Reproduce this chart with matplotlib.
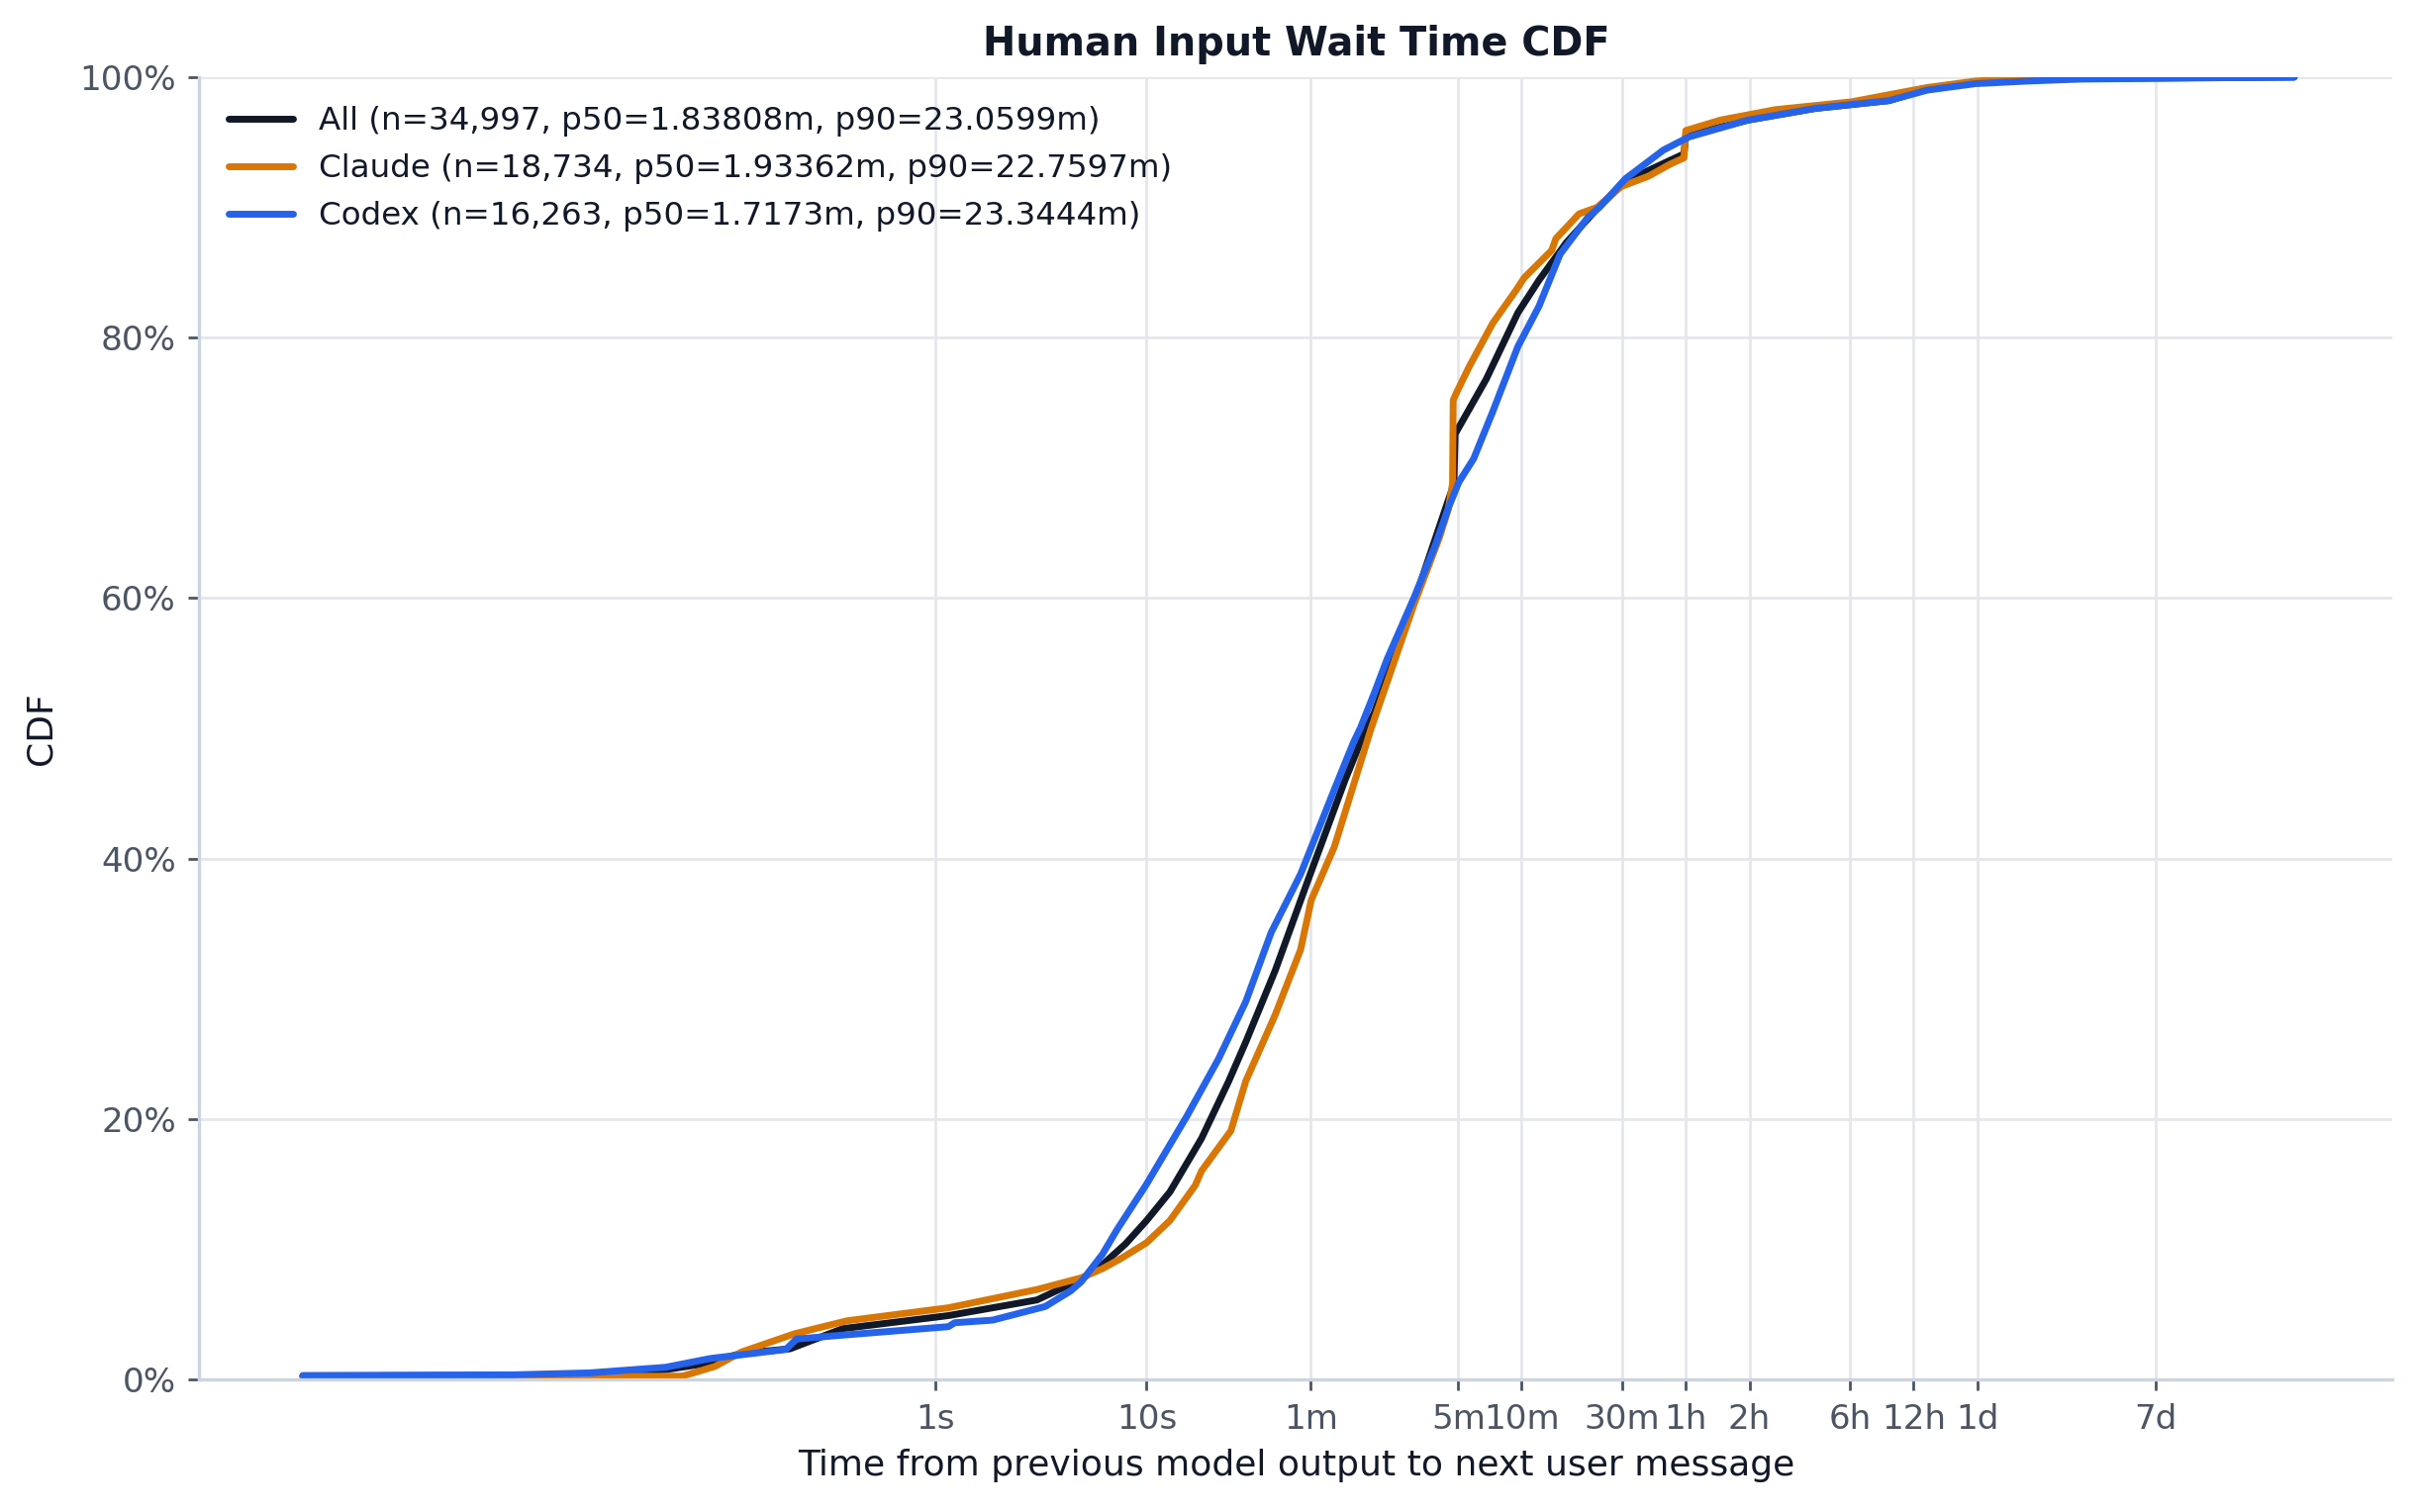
import matplotlib
matplotlib.use("Agg")
import matplotlib.pyplot as plt
from matplotlib.ticker import FixedLocator, FixedFormatter, PercentFormatter, NullLocator

# ---- data (time in seconds, CDF in percent) ----
all_t = [0.001, 0.01, 0.03, 0.0525, 0.08, 0.12, 0.204, 0.363, 1.15, 3.02, 4.90, 6.17, 7.94, 10,
         12.9, 18.2, 24.5, 29.5, 40.7, 57.5, 87.1, 110, 120, 186, 269, 286, 290, 407, 575, 724,
         977, 1384, 1862, 3020, 3524, 3597, 7079, 14791, 33113, 50119, 85114, 151356, 269153,
         2754229]
all_p = [0.25, 0.3, 0.45, 0.75, 1.2, 2.0, 2.35, 3.9, 4.9, 6.1, 7.7, 8.8, 10.4, 12.2,
         14.4, 18.5, 22.9, 25.9, 31.4, 38.1, 46.0, 50.0, 51.2, 59.8, 67.5, 68.7, 72.6, 76.8, 81.9,
         84.4, 87.3, 90.0, 92.0, 93.6, 94.1, 95.5, 96.7, 97.6, 98.2, 99.1, 99.6, 99.8, 99.9,
         100.0]

claude_t = [0.001, 0.0617, 0.0646, 0.09, 0.12, 0.214, 0.38, 1.15, 3.02, 4.90, 6.17, 7.59, 10,
            12.9, 17.0, 18.2, 25.1, 29.5, 40.7, 53.7, 60.3, 77.6, 116, 186, 245, 269, 282, 284,
            295, 339, 437, 562, 617, 832, 871, 1122, 1366, 1778, 2399, 3020, 3524, 3597, 5248,
            9550, 21878, 50119, 85114, 151356, 1000000]
claude_p = [0.2, 0.25, 0.3, 1.0, 2.1, 3.5, 4.5, 5.5, 6.9, 7.8, 8.5, 9.3, 10.5,
            12.2, 14.9, 16.0, 19.1, 22.9, 28.0, 33.0, 36.8, 40.9, 50.0, 59.6, 64.7, 66.8, 68.8,
            75.2, 75.8, 77.8, 81.1, 83.6, 84.6, 86.7, 87.6, 89.5, 90.0, 91.6, 92.4, 93.3, 93.8,
            95.9, 96.7, 97.5, 98.1, 99.2, 99.7, 99.9, 100.0]

codex_t = [0.001, 0.01, 0.0229, 0.0525, 0.0851, 0.195, 0.219, 0.363, 1.15, 1.23, 1.86, 3.31,
           4.37, 4.90, 6.17, 7.24, 10, 15.5, 21.9, 29.5, 38.9, 53.7, 77.6, 95.5, 103, 120, 138,
           186, 234, 269, 302, 355, 437, 575, 724, 912, 1230, 1400, 1862, 2818, 3715, 7079,
           14791, 33113, 50119, 85114, 151356, 269153, 2754229]
codex_p = [0.3, 0.35, 0.5, 0.93, 1.6, 2.3, 3.1, 3.4, 4.05, 4.35, 4.55, 5.6,
           6.8, 7.5, 9.6, 11.5, 15.0, 20.2, 24.6, 29.0, 34.3, 38.8, 45.3, 48.9, 50.0, 52.7, 55.3,
           60.1, 64.1, 66.9, 68.9, 70.7, 74.3, 79.3, 82.4, 86.4, 89.2, 90.0, 92.2, 94.4, 95.4,
           96.7, 97.6, 98.2, 99.0, 99.5, 99.7, 99.85, 100.0]

series_labels = ["All (n=34,997, p50=1.83808m, p90=23.0599m)",
                 "Claude (n=18,734, p50=1.93362m, p90=22.7597m)",
                 "Codex (n=16,263, p50=1.7173m, p90=23.3444m)"]
series_colors = ["#111827", "#d97706", "#2563eb"]

tick_seconds = [1, 10, 60, 300, 600, 1800, 3600, 7200, 21600, 43200, 86400, 604800]
tick_labels = ["1s", "10s", "1m", "5m", "10m", "30m", "1h", "2h", "6h", "12h", "1d", "7d"]
y_ticks = [0, 20, 40, 60, 80, 100]

# ---- figure ----
plt.rcParams['font.family'] = ['DejaVu Sans']
fig = plt.figure(figsize=(12.21, 7.64), dpi=200)
ax = fig.add_axes([0.0825, 0.0877, 0.9073, 0.8613])

for t, p, lab, col in zip([all_t, claude_t, codex_t], [all_p, claude_p, codex_p],
                          series_labels, series_colors):
    ax.plot(t, p, color=col, lw=2.5, label=lab, solid_capstyle='round',
            solid_joinstyle='round')

ax.set_xscale('log')
ax.set_xlim(10 ** -3.49, 10 ** 6.905)
ax.set_ylim(0, 100)

ax.xaxis.set_major_locator(FixedLocator(tick_seconds))
ax.xaxis.set_major_formatter(FixedFormatter(tick_labels))
ax.xaxis.set_minor_locator(NullLocator())
ax.yaxis.set_major_locator(FixedLocator(y_ticks))
ax.yaxis.set_major_formatter(PercentFormatter(decimals=0))

ax.grid(True, color="#e5e7eb", lw=1.0)
ax.set_axisbelow(True)
for s in ['top', 'right']:
    ax.spines[s].set_visible(False)
for s in ['left', 'bottom']:
    ax.spines[s].set_color("#cbd5e1")
    ax.spines[s].set_linewidth(1.2)

ax.tick_params(axis='both', labelsize=12.3, labelcolor="#4b5563", color="#4b5563",
               length=4, width=1.0, pad=4.5)

ax.set_xlabel("Time from previous model output to next user message", fontsize=13,
              color="#111827", labelpad=5)
ax.set_ylabel("CDF", fontsize=13, color="#111827", labelpad=8)
ax.set_title("Human Input Wait Time CDF", fontsize=14.3, fontweight='bold',
             color="#111827", pad=8)

leg = ax.legend(loc='upper left', frameon=False, fontsize=11.7, handlelength=2.0,
                borderaxespad=0.55, labelspacing=0.52, borderpad=0.35)
for t in leg.get_texts():
    t.set_color("#111827")

fig.savefig("out.png", dpi=200)
